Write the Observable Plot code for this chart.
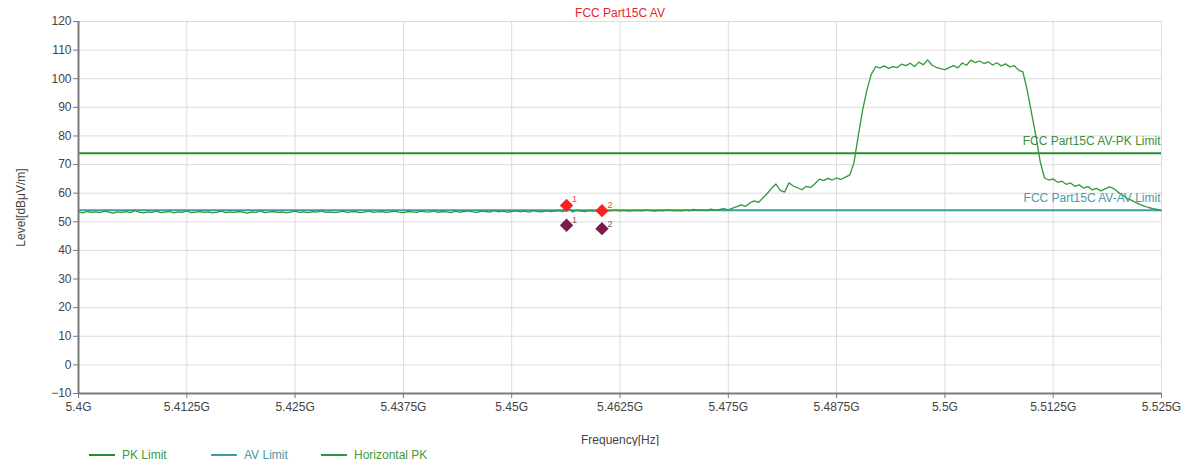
<!DOCTYPE html>
<html>
<head>
<meta charset="utf-8">
<script src="https://cdn.jsdelivr.net/npm/d3@7"></script>
<script src="https://cdn.jsdelivr.net/npm/@observablehq/plot@0.6"></script>
<style>
  html, body { margin: 0; padding: 0; background: #fff; }
  #wrap { position: relative; width: 1192px; height: 466px; font-family: "Liberation Sans", Arial, sans-serif; }
  #legend { position: absolute; left: 0; top: 446px; width: 1192px; height: 20px; font-size: 12px; }
  .item { position: absolute; top: 2px; display: flex; align-items: center; }
  .swatch { display: inline-block; width: 26px; height: 2px; margin-right: 7px; }
</style>
</head>
<body>
<div id="wrap">
  <div id="chart"></div>
  <div id="legend"></div>
</div>
<script>
// ---- data ----
const title = "FCC Part15C AV";
const sweepStartHz = 5.4e9;
const sweepStepHz = 0.5e6;
const horizontalPK = [
  53.4,53.1,53.6,53.3,53.5,53.2,53.7,53.4,53.0,53.5,
  53.3,53.6,53.2,54.0,53.4,53.1,53.5,53.3,53.7,53.2,
  53.4,53.6,53.1,53.5,53.3,53.8,53.2,53.4,53.6,53.3,
  53.5,53.1,53.4,53.7,53.2,53.5,53.3,53.6,53.4,53.0,
  53.5,53.3,53.8,53.2,53.4,53.6,53.3,53.5,53.1,53.4,
  53.7,53.3,53.5,53.2,53.6,53.4,53.8,53.3,53.5,53.2,
  53.4,53.7,53.3,53.5,53.6,53.2,53.4,53.8,53.3,53.5,
  53.6,53.3,53.5,53.7,53.4,53.2,53.6,53.5,53.3,53.7,
  53.5,53.4,53.8,53.3,53.6,53.5,53.2,53.7,53.4,53.6,
  53.8,53.5,53.3,53.7,53.6,53.4,53.9,53.5,53.7,53.4,
  53.6,53.8,53.5,53.7,53.4,53.9,53.6,53.5,53.8,53.6,
  53.7,53.9,53.6,54.9,53.5,54.0,53.7,53.6,53.9,53.7,
  53.8,54.3,53.7,53.9,54.1,53.8,54.0,53.7,53.9,54.0,
  53.8,54.1,53.9,53.7,54.0,53.8,54.2,53.9,54.0,53.8,
  54.1,53.9,54.3,54.0,54.2,53.9,54.4,54.1,54.3,54.6,
  54.2,54.8,55.3,55.9,55.4,56.6,57.3,56.8,58.4,59.9,
  61.8,63.2,61.0,60.4,63.6,62.5,61.9,61.2,62.4,62.0,
  63.3,64.9,64.4,65.2,64.6,65.3,64.8,65.6,66.3,70.5,
  80.0,89.0,96.0,101.5,104.2,103.8,104.5,103.6,104.2,103.9,
  105.1,104.6,105.4,104.3,105.8,104.9,106.6,104.8,104.0,103.5,
  103.2,103.9,104.6,103.8,105.5,104.7,106.5,105.6,106.2,105.3,
  105.9,104.8,105.6,104.5,105.2,104.1,104.6,103.0,102.4,96.0,
  88.0,80.0,71.0,65.3,64.6,65.0,63.8,64.2,63.1,63.6,
  62.4,62.9,61.8,62.3,61.2,61.7,60.8,61.5,62.2,61.6,
  60.3,59.4,58.2,57.6,56.8,56.1,55.5,55.0,54.6,54.3,
  54.0
];
const pkLimit = 74;
const avLimit = 54;
const pkLimitLabel = "FCC Part15C AV-PK Limit";
const avLimitLabel = "FCC Part15C AV-AV Limit";
const markerIds = ["1", "2"];
const markerFreqHz = [5.45633e9, 5.46042e9];
const markerPeak = [55.7, 53.9];
const markerAvg = [48.8, 47.6];
const xTicks = [5.4e9, 5.4125e9, 5.425e9, 5.4375e9, 5.45e9, 5.4625e9, 5.475e9, 5.4875e9, 5.5e9, 5.5125e9, 5.525e9];
const xTickLabels = ["5.4G","5.4125G","5.425G","5.4375G","5.45G","5.4625G","5.475G","5.4875G","5.5G","5.5125G","5.525G"];
const yTicks = [-10,0,10,20,30,40,50,60,70,80,90,100,110,120];
const legendNames = ["PK Limit", "AV Limit", "Horizontal PK"];

// ---- build ----
const trace = horizontalPK.map((v, i) => ({f: sweepStartHz + i * sweepStepHz, v}));
const peaks = markerIds.map((id, i) => ({id, f: markerFreqHz[i], v: markerPeak[i]}));
const avgs = markerIds.map((id, i) => ({id, f: markerFreqHz[i], v: markerAvg[i]}));

const cTrace = "#2f9a35";
const cPK = "#2a8c2f";
const cAV = "#3a9ea6";
const cAxis = "#7a7a7a";
const cGrid = "#dcdcdc";

const chart = Plot.plot({
  width: 1192,
  height: 446,
  marginLeft: 78,
  marginRight: 31,
  marginTop: 21,
  marginBottom: 53,
  style: {fontFamily: "'Liberation Sans', Arial, sans-serif", fontSize: "12px", color: "#333", background: "#fff"},
  x: {domain: [5.4e9, 5.525e9]},
  y: {domain: [-10, 120]},
  marks: [
    Plot.gridX(xTicks, {stroke: cGrid, strokeOpacity: 1, strokeWidth: 1}),
    Plot.gridY(yTicks, {stroke: cGrid, strokeOpacity: 1, strokeWidth: 1}),
    Plot.axisX(xTicks, {
      tickFormat: (d) => xTickLabels[xTicks.indexOf(d)],
      tickSize: 5, tickPadding: 4, stroke: cAxis, fill: "#444",
      label: "Frequency[Hz]", labelAnchor: "center", labelArrow: "none", labelOffset: 50
    }),
    Plot.axisY(yTicks, {
      tickSize: 5, tickPadding: 2, stroke: cAxis, fill: "#444",
      label: "Level[dBμV/m]", labelAnchor: "center", labelArrow: "none", labelOffset: 62
    }),
    Plot.ruleY([pkLimit], {stroke: cPK, strokeWidth: 2}),
    Plot.ruleY([avLimit], {stroke: cAV, strokeWidth: 2}),
    Plot.lineY(trace, {x: "f", y: "v", stroke: cTrace, strokeWidth: 1.3}),
    Plot.text([pkLimitLabel], {x: 5.525e9, y: pkLimit, text: (d) => d, dx: -1, dy: -12, fill: "#3d8f3d", fontSize: 12, textAnchor: "end"}),
    Plot.text([avLimitLabel], {x: 5.525e9, y: avLimit, text: (d) => d, dx: -1, dy: -12, fill: "#4a9aa8", fontSize: 12, textAnchor: "end"}),
    Plot.ruleX([5.4e9], {stroke: cAxis, strokeWidth: 2}),
    Plot.ruleY([-10], {stroke: cAxis, strokeWidth: 2}),
    Plot.dot(peaks, {x: "f", y: "v", symbol: "diamond2", r: 6, fill: "#ff1f1f", stroke: "none"}),
    Plot.dot(avgs, {x: "f", y: "v", symbol: "diamond2", r: 6, fill: "#7a1a4e", stroke: "none"}),
    Plot.text(peaks, {x: "f", y: "v", text: "id", dx: 8, dy: -6, fill: "#e84a4a", fontSize: 9}),
    Plot.text(avgs, {x: "f", y: "v", text: "id", dx: 8, dy: -5, fill: "#8a5a7a", fontSize: 9}),
    Plot.text([title], {frameAnchor: "top", text: (d) => d, dy: -13, fill: "#e8262a", fontSize: 12})
  ]
});
document.getElementById("chart").appendChild(chart);

// legend
const legendColors = [cPK, cAV, cTrace];
const legendTextColors = ["#3d9a3d", "#4a9aa8", "#3d9a3d"];
const legendLeft = [89, 211, 321];
const legend = document.getElementById("legend");
legendNames.forEach((name, i) => {
  const item = document.createElement("div");
  item.className = "item";
  item.style.left = legendLeft[i] + "px";
  const sw = document.createElement("span");
  sw.className = "swatch";
  sw.style.background = legendColors[i];
  const tx = document.createElement("span");
  tx.textContent = name;
  tx.style.color = legendTextColors[i];
  item.appendChild(sw);
  item.appendChild(tx);
  legend.appendChild(item);
});
</script>
</body>
</html>
